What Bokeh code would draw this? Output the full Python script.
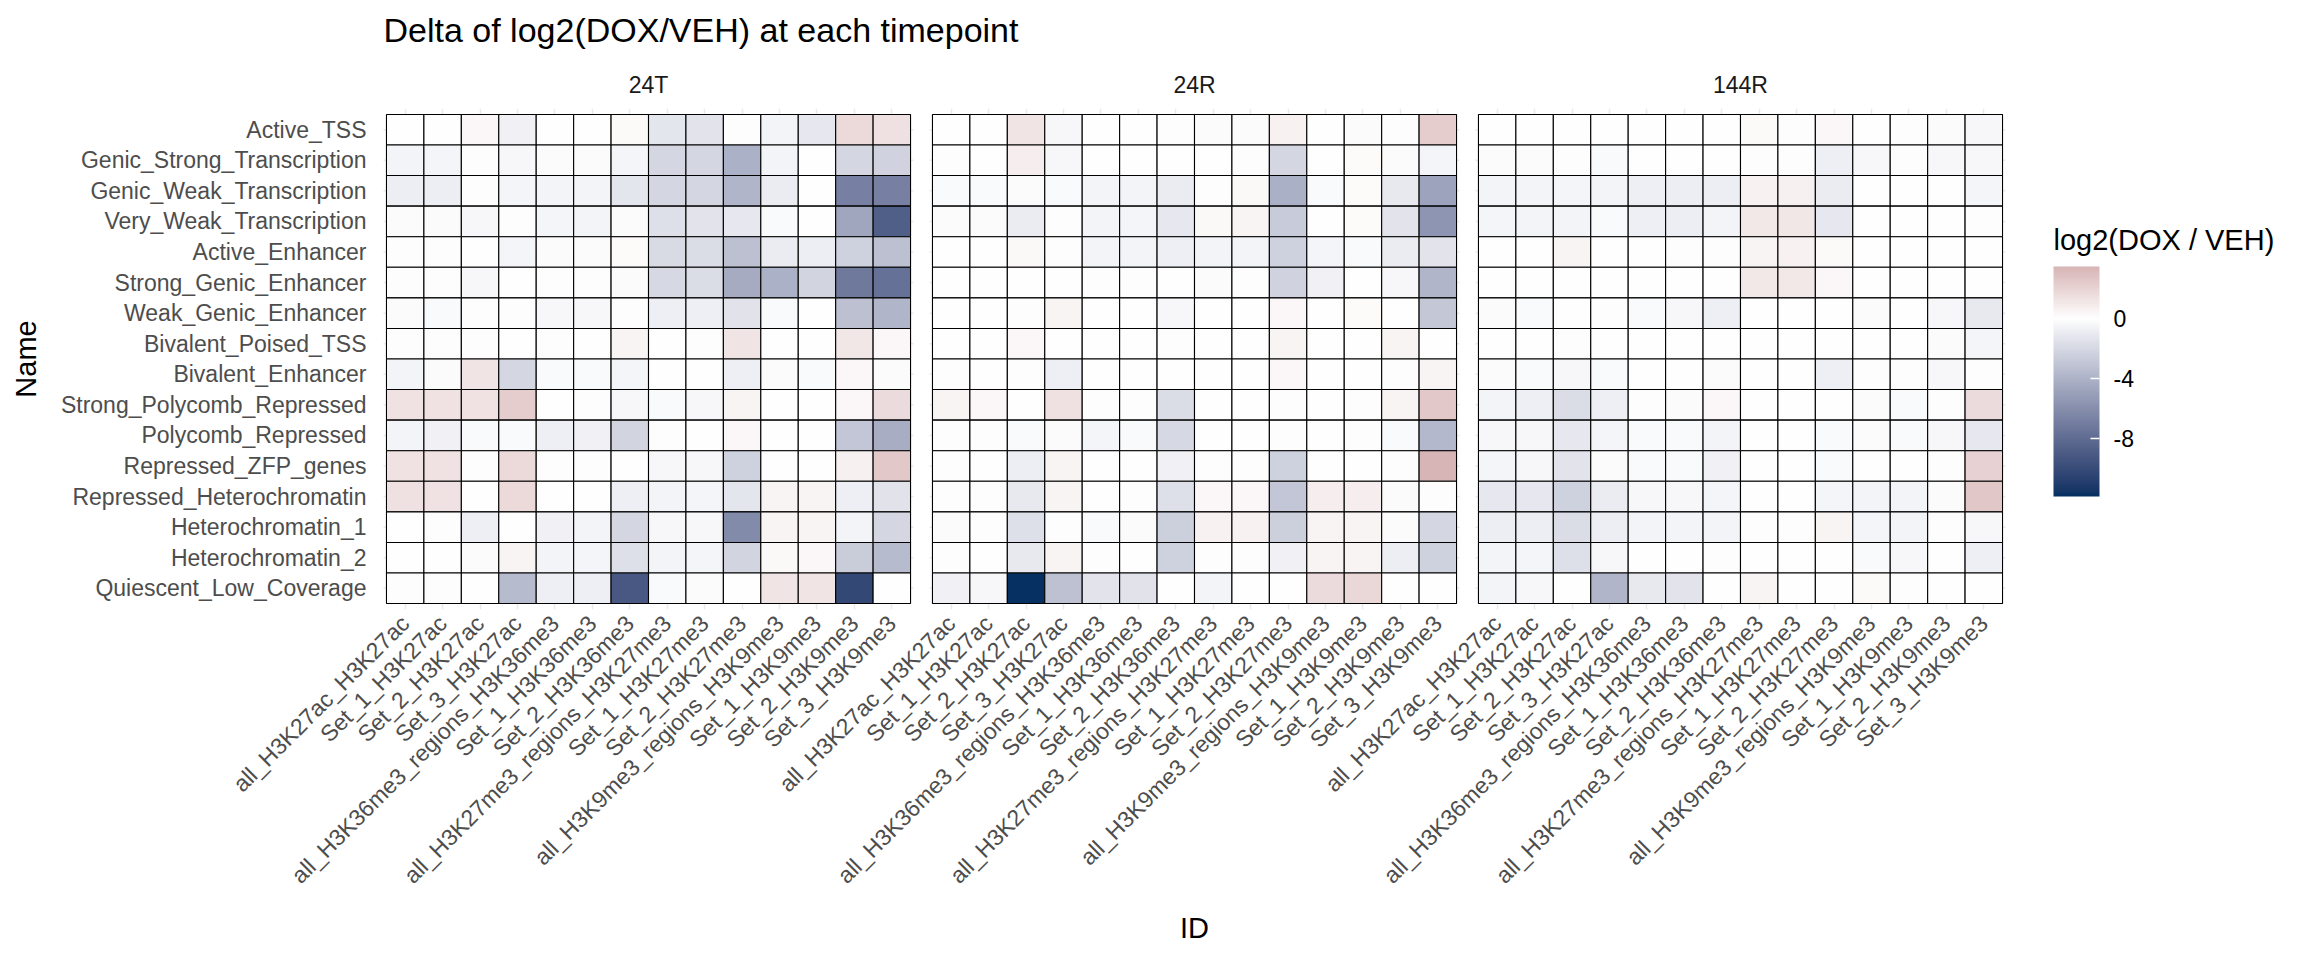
import math
from bokeh.plotting import figure
from bokeh.models import (ColumnDataSource, FactorRange, LinearColorMapper, ColorBar,
                          FixedTicker, CategoricalAxis, Range1d, PrintfTickFormatter)
from bokeh.layouts import row, column
from bokeh.core.properties import value
from bokeh.transform import transform
from bokeh.embed import file_html
from bokeh.resources import INLINE

# ---------------- data ----------------
title_text = "Delta of log2(DOX/VEH) at each timepoint"
legend_title = "log2(DOX / VEH)"
timepoints = ["24T", "24R", "144R"]
ids = ["all_H3K27ac_H3K27ac", "Set_1_H3K27ac", "Set_2_H3K27ac", "Set_3_H3K27ac",
       "all_H3K36me3_regions_H3K36me3", "Set_1_H3K36me3", "Set_2_H3K36me3",
       "all_H3K27me3_regions_H3K27me3", "Set_1_H3K27me3", "Set_2_H3K27me3",
       "all_H3K9me3_regions_H3K9me3", "Set_1_H3K9me3", "Set_2_H3K9me3", "Set_3_H3K9me3"]
names = ["Active_TSS", "Genic_Strong_Transcription", "Genic_Weak_Transcription",
         "Very_Weak_Transcription", "Active_Enhancer", "Strong_Genic_Enhancer",
         "Weak_Genic_Enhancer", "Bivalent_Poised_TSS", "Bivalent_Enhancer",
         "Strong_Polycomb_Repressed", "Polycomb_Repressed", "Repressed_ZFP_genes",
         "Repressed_Heterochromatin", "Heterochromatin_1", "Heterochromatin_2",
         "Quiescent_Low_Coverage"]

vals_24T = [
    [0.0, 0.0, 0.4, -0.7, 0.0, 0.0, 0.25, -1.3, -1.4, -0.1, -0.6, -1.2, 1.7, 1.4],
    [-0.6, -0.5, 0.1, -0.4, -0.2, -0.2, -0.5, -2.1, -2.1, -4.1, -0.6, 0.0, -2.1, -2.3],
    [-0.9, -0.9, -0.1, -0.5, -0.6, -0.6, -1.3, -2.1, -2.1, -3.9, -1.0, 0.0, -6.8, -6.8],
    [-0.2, -0.2, -0.4, -0.1, -0.5, -0.6, -0.2, -1.6, -1.4, -1.2, -0.3, 0.0, -4.7, -8.8],
    [-0.1, -0.1, 0.0, -0.5, -0.2, -0.2, 0.2, -1.9, -1.8, -3.3, -1.0, -0.9, -2.4, -3.3],
    [-0.1, -0.1, -0.4, 0.0, -0.1, -0.1, -0.2, -2.0, -1.8, -4.4, -4.1, -2.2, -7.2, -7.7],
    [-0.2, -0.3, -0.1, -0.1, -0.4, -0.4, -0.1, -0.8, -0.8, -1.5, -0.3, 0.0, -3.3, -3.85],
    [-0.1, -0.1, 0.1, -0.05, 0.1, 0.0, 0.5, 0.0, -0.1, 1.2, 0.0, -0.05, 1.1, 0.35],
    [-0.6, -0.2, 1.2, -2.1, -0.3, -0.3, -0.5, 0.0, 0.0, -0.8, -0.2, -0.3, 0.4, -0.2],
    [1.3, 1.3, 1.3, 2.3, -0.05, 0.1, -0.4, -0.3, -0.4, 0.5, -0.05, -0.05, 0.4, 1.6],
    [-0.6, -0.7, -0.3, -0.3, -0.8, -0.7, -2.2, -0.1, -0.05, 0.4, 0.0, 0.0, -3.0, -4.3],
    [1.3, 1.3, 0.1, 1.7, 0.1, 0.1, 0.0, -0.4, -0.4, -2.4, -0.05, -0.05, 0.7, 2.5],
    [1.4, 1.3, 0.0, 1.7, -0.05, 0.0, -0.8, -0.6, -0.5, -1.3, 0.5, 0.5, -0.8, -1.5],
    [-0.05, -0.1, -0.8, -0.05, -0.7, -0.6, -2.1, -0.4, -0.4, -6.2, 0.5, 0.5, -0.6, -2.1],
    [-0.05, 0.0, -0.2, 0.5, -0.6, -0.5, -1.6, -0.6, -0.5, -2.2, 0.3, 0.4, -2.6, -3.6],
    [0.1, 0.1, 0.0, -3.6, -0.8, -0.8, -9.2, -0.3, -0.2, 0.0, 1.2, 1.2, -10.2, 0.0],
]
vals_24R = [
    [0.0, 0.0, 1.2, -0.4, 0.0, -0.05, 0.1, -0.2, -0.2, 0.6, 0.0, -0.2, 0.1, 2.3],
    [-0.1, -0.05, 0.8, -0.4, -0.05, -0.05, 0.0, 0.0, 0.1, -2.1, 0.0, 0.2, -0.2, -0.5],
    [-0.3, -0.3, -0.2, -0.3, -0.6, -0.6, -1.0, 0.1, 0.3, -4.2, -0.3, 0.2, -1.1, -4.8],
    [-0.2, -0.2, -1.0, 0.05, -0.6, -0.5, -1.2, 0.3, 0.5, -2.7, 0.0, 0.2, -1.4, -5.6],
    [0.0, -0.05, 0.3, -0.1, -0.6, -0.6, -0.8, -0.6, -0.6, -2.4, -0.5, -0.3, -1.0, -1.4],
    [0.0, 0.0, -0.05, 0.0, -0.1, -0.1, 0.0, -0.2, -0.1, -2.3, -0.7, -0.05, -0.4, -3.9],
    [0.0, 0.0, -0.1, 0.5, 0.0, 0.0, -0.4, 0.0, 0.0, 0.4, 0.0, 0.2, 0.0, -2.9],
    [0.0, 0.0, 0.4, -0.05, -0.05, 0.0, 0.05, -0.05, -0.05, 0.5, 0.0, 0.0, 0.5, 0.0],
    [-0.1, 0.0, 0.05, -0.8, 0.0, 0.0, 0.0, 0.0, 0.0, 0.4, 0.0, 0.0, 0.1, 0.5],
    [0.5, 0.4, -0.05, 1.4, 0.1, 0.1, -1.8, 0.0, 0.0, 0.1, 0.0, 0.05, 0.5, 2.5],
    [-0.1, -0.1, -0.3, -0.2, -0.5, -0.3, -2.0, 0.0, 0.0, 0.1, 0.0, 0.05, -0.3, -3.7],
    [0.05, 0.0, -0.9, 0.5, 0.0, 0.0, -0.7, 0.1, 0.1, -2.4, 0.0, 0.0, 0.05, 3.45],
    [0.05, 0.05, -1.1, 0.5, 0.0, -0.1, -1.6, 0.4, 0.4, -3.0, 0.8, 0.8, -0.2, 0.05],
    [-0.2, -0.1, -1.6, 0.1, -0.3, -0.2, -2.5, 0.6, 0.6, -2.5, 0.5, 0.5, -0.2, -2.1],
    [-0.1, -0.05, -1.1, 0.5, -0.1, 0.0, -2.4, 0.05, 0.05, -0.7, 0.5, 0.5, -0.9, -2.4],
    [-0.7, -0.4, -11.85, -3.2, -1.4, -1.5, 0.0, -0.6, -0.05, 0.0, 1.6, 1.8, 0.0, 0.0],
]
vals_144R = [
    [0.0, 0.0, 0.0, 0.0, 0.0, 0.0, -0.05, 0.25, 0.05, 0.4, -0.05, 0.1, -0.2, -0.4],
    [-0.2, -0.2, 0.05, -0.3, -0.05, -0.05, 0.0, 0.1, 0.05, -0.8, -0.4, -0.1, -0.4, -0.4],
    [-0.6, -0.6, -0.5, -0.6, -0.8, -0.9, -0.9, 0.6, 0.7, -1.0, 0.0, 0.0, 0.0, -0.5],
    [-0.5, -0.6, -0.6, -0.3, -0.8, -0.9, -0.6, 1.0, 1.1, -1.2, 0.0, 0.0, 0.0, 0.05],
    [0.0, 0.0, 0.5, 0.0, 0.0, -0.1, -0.1, 0.5, 0.6, 0.25, 0.0, 0.0, 0.0, 0.0],
    [0.0, 0.0, -0.05, 0.0, 0.0, 0.0, 0.0, 1.0, 1.0, 0.4, 0.0, 0.0, -0.05, -0.05],
    [-0.2, -0.3, 0.0, -0.1, -0.3, -0.4, -0.8, 0.0, 0.0, 0.0, -0.2, -0.05, -0.4, -1.1],
    [0.0, 0.0, 0.05, 0.0, 0.0, 0.0, 0.0, 0.0, 0.0, 0.0, 0.0, 0.0, -0.2, -0.5],
    [-0.2, -0.3, -0.4, -0.3, 0.0, 0.0, -0.2, 0.0, 0.0, -0.8, -0.1, -0.1, -0.4, -0.1],
    [-0.6, -0.8, -1.8, -0.8, -0.1, -0.2, 0.4, -0.05, -0.05, 0.0, -0.2, -0.3, 0.05, 1.6],
    [-0.4, -0.4, -1.2, -0.5, -0.3, -0.3, -0.6, 0.0, 0.0, -0.3, -0.2, -0.3, -0.4, -1.2],
    [-0.5, -0.4, -1.4, -0.2, -0.3, -0.3, -0.7, 0.0, 0.0, -0.3, 0.0, 0.0, -0.1, 2.1],
    [-1.2, -1.2, -2.4, -1.0, -0.4, -0.4, -0.5, 0.0, 0.0, -0.5, -0.6, -0.6, -0.2, 2.6],
    [-0.9, -0.9, -1.8, -0.9, -0.6, -0.6, -0.6, 0.1, 0.05, 0.5, -0.5, -0.6, 0.1, -0.4],
    [-0.6, -0.5, -1.6, -0.4, -0.05, -0.05, -0.1, -0.05, -0.05, -0.05, -0.3, -0.4, 0.0, -0.8],
    [-0.6, -0.4, 0.0, -3.9, -1.1, -1.4, 0.0, 0.5, -0.05, 0.0, 0.25, 0.1, 0.0, 0.0],
]
legend_ticks = [-8, -4, 0]

# ---------------- colour scale (diverging, Lab interpolation) ----------------
FONT = "Liberation Sans"
_WHITE = (0.95047, 1.0, 1.08883)


def _hex_rgb(h):
    h = h.lstrip("#")
    return [int(h[i:i + 2], 16) / 255 for i in (0, 2, 4)]


def _lin(c):
    return c / 12.92 if c <= 0.04045 else ((c + 0.055) / 1.055) ** 2.4


def _gam(c):
    c = min(max(c, 0.0), 1.0)
    return 12.92 * c if c <= 0.0031308 else 1.055 * c ** (1 / 2.4) - 0.055


def _f(t):
    return t ** (1 / 3) if t > 216 / 24389 else (24389 / 27 * t + 16) / 116


def _finv(t):
    return t ** 3 if t ** 3 > 216 / 24389 else (116 * t - 16) / (24389 / 27)


def to_lab(h):
    r, g, b = (_lin(c) for c in _hex_rgb(h))
    x = 0.4124564 * r + 0.3575761 * g + 0.1804375 * b
    y = 0.2126729 * r + 0.7151522 * g + 0.0721750 * b
    z = 0.0193339 * r + 0.1191920 * g + 0.9503041 * b
    fx, fy, fz = _f(x / _WHITE[0]), _f(y / _WHITE[1]), _f(z / _WHITE[2])
    return (116 * fy - 16, 500 * (fx - fy), 200 * (fy - fz))


def from_lab(L, a, b):
    fy = (L + 16) / 116
    fx = fy + a / 500
    fz = fy - b / 200
    x, y, z = _WHITE[0] * _finv(fx), _WHITE[1] * _finv(fy), _WHITE[2] * _finv(fz)
    r = 3.2404542 * x - 1.5371385 * y - 0.4985314 * z
    g = -0.9692660 * x + 1.8760108 * y + 0.0415560 * z
    bb = 0.0556434 * x - 0.2040259 * y + 1.0572252 * z
    return "#%02x%02x%02x" % tuple(int(round(_gam(c) * 255)) for c in (r, g, bb))


all_vals = [v for tbl in (vals_24T, vals_24R, vals_144R) for r in tbl for v in r]
vmin, vmax = min(all_vals), max(all_vals)
vabs = max(-vmin, vmax)
low_lab, mid_lab, high_lab = to_lab("#053061"), to_lab("#FFFFFF"), to_lab("#67001F")
palette = []
N = 256
for i in range(N):
    v = vmin + (vmax - vmin) * i / (N - 1)
    t = v / vabs
    end = high_lab if t > 0 else low_lab
    t = abs(t)
    palette.append(from_lab(*[m + (e - m) * t for m, e in zip(mid_lab, end)]))
mapper = LinearColorMapper(palette=palette, low=vmin, high=vmax)

# ---------------- source ----------------
xs, ys, vs = [], [], []
for tp, tbl in zip(timepoints, (vals_24T, vals_24R, vals_144R)):
    for name, rowv in zip(names, tbl):
        for id_, v in zip(ids, rowv):
            xs.append((tp, id_))
            ys.append(name)
            vs.append(v)
src = ColumnDataSource(dict(x=xs, y=ys, v=vs))

# ---------------- geometry ----------------
TITLE_H = 60                 # height of the title strip
MAIN_H = 898                 # height of the panel row
BORDER_L, BORDER_R = 380, 32
BORDER_T, BORDER_B = 48, 349
FRAME_W = 1628
FRAME_H = MAIN_H - BORDER_T - BORDER_B
MAIN_W = BORDER_L + FRAME_W + BORDER_R
LEG_W = 256

unit = 526 / 14          # px per column
row_h = 495 / 16         # px per row
gap = 22 / unit
pad_x = 3 / unit
pad_y = 3 / row_h
ncol = len(ids)

# ---------------- title figure ----------------
tfig = figure(width=MAIN_W, height=TITLE_H, x_range=Range1d(0, FRAME_W),
              y_range=Range1d(0, TITLE_H), output_backend="svg", toolbar_location=None,
              x_axis_location=None, y_axis_location=None, title=None,
              min_border_left=BORDER_L, min_border_right=BORDER_R,
              min_border_top=0, min_border_bottom=0)
tfig.outline_line_color = None
tfig.xgrid.visible = False
tfig.ygrid.visible = False
tfig.text(x=[3], y=[TITLE_H - 29], text=[title_text], text_font=value(FONT),
          text_font_size="34px", text_color="black", text_align="left",
          text_baseline="middle")

# ---------------- main figure ----------------
x_range = FactorRange(factors=[(tp, i) for tp in timepoints for i in ids],
                      factor_padding=0, group_padding=gap,
                      range_padding=2 * pad_x, range_padding_units="absolute")
y_range = FactorRange(factors=names[::-1], factor_padding=0,
                      range_padding=2 * pad_y, range_padding_units="absolute")

p = figure(width=MAIN_W, height=MAIN_H, x_range=x_range, y_range=y_range,
           output_backend="svg", toolbar_location=None, title=None,
           min_border_left=BORDER_L, min_border_right=BORDER_R,
           min_border_top=BORDER_T, min_border_bottom=BORDER_B)
p.outline_line_color = None
p.background_fill_color = "white"
p.border_fill_color = "white"

# strip range: one unit per panel, same screen mapping as the panels
p.extra_x_ranges["strip"] = FactorRange(factors=timepoints, factor_padding=gap / ncol,
                                        range_padding=2 * pad_x / ncol,
                                        range_padding_units="absolute")

# grid (vertical from axis ticks, horizontal drawn per panel)
p.xgrid.grid_line_color = "#EBEBEB"
p.xgrid.grid_line_width = 1.5
p.ygrid.visible = False
seg = dict(x0=[], x1=[], y=[])
for tp in timepoints:
    for name in names:
        seg["x0"].append((tp, ids[0], -0.5 - pad_x))
        seg["x1"].append((tp, ids[-1], 0.5 + pad_x))
        seg["y"].append(name)
p.segment(x0="x0", x1="x1", y0="y", y1="y", source=ColumnDataSource(seg),
          line_color="#EBEBEB", line_width=1.5)

p.rect(x="x", y="y", width=1, height=1, source=src,
       fill_color=transform("v", mapper), line_color="black", line_width=1.1)

# bottom axis
xb = p.xaxis[0]
xb.major_label_orientation = math.pi / 4
xb.major_label_text_font = FONT
xb.major_label_text_font_size = "23px"
xb.major_label_text_color = "#4D4D4D"
xb.major_label_standoff = 10
xb.group_text_font_size = "0px"
xb.group_text_color = None
xb.separator_line_color = None
xb.axis_line_color = None
xb.major_tick_line_color = None
xb.major_tick_out = 0
xb.major_tick_in = 0
xb.minor_tick_line_color = None
xb.axis_label = "ID"
xb.axis_label_text_font = FONT
xb.axis_label_text_font_size = "29px"
xb.axis_label_text_font_style = "normal"
xb.axis_label_text_color = "black"
xb.axis_label_standoff = 12

# strip labels (top axis on the per-panel range)
xa = CategoricalAxis(x_range_name="strip")
xa.major_label_text_font = FONT
xa.major_label_text_font_size = "23px"
xa.major_label_text_color = "#1A1A1A"
xa.major_label_standoff = 11
xa.axis_line_color = None
xa.major_tick_line_color = None
xa.major_tick_out = 0
xa.major_tick_in = 0
xa.minor_tick_line_color = None
p.add_layout(xa, "above")

# left axis
ya = p.yaxis[0]
ya.major_label_text_font = FONT
ya.major_label_text_font_size = "23px"
ya.major_label_text_color = "#4D4D4D"
ya.major_label_standoff = 14
ya.axis_line_color = None
ya.major_tick_line_color = None
ya.major_tick_out = 0
ya.major_tick_in = 0
ya.minor_tick_line_color = None
ya.axis_label = "Name"
ya.axis_label_text_font = FONT
ya.axis_label_text_font_size = "29px"
ya.axis_label_text_font_style = "normal"
ya.axis_label_text_color = "black"
ya.axis_label_standoff = 16

# ---------------- legend figure (colour bar + its title) ----------------
# frame coincides vertically with the panel frame; 1 data unit = 1 px
leg = figure(width=LEG_W, height=MAIN_H, x_range=Range1d(0, LEG_W),
             y_range=Range1d(0, FRAME_H), output_backend="svg", toolbar_location=None,
             x_axis_location=None, y_axis_location=None, title=None,
             min_border_left=0, min_border_right=0,
             min_border_top=BORDER_T, min_border_bottom=BORDER_B)
leg.outline_line_color = None
leg.xgrid.visible = False
leg.ygrid.visible = False
frame_bottom = TITLE_H + BORDER_T + FRAME_H
leg.text(x=[13], y=[frame_bottom - 239], text=[legend_title], text_font=value(FONT),
         text_font_size="29px", text_color="black", text_align="left",
         text_baseline="middle")

cb = ColorBar(color_mapper=mapper, ticker=FixedTicker(ticks=legend_ticks),
              formatter=PrintfTickFormatter(format="%d"),
              width=46, height=230, location=(13, frame_bottom - 496), padding=0, margin=0,
              major_label_text_font=FONT, major_label_text_font_size="23px",
              major_label_text_color="black", label_standoff=14,
              major_tick_in=9, major_tick_out=0, major_tick_line_color="white",
              major_tick_line_width=1.3, minor_tick_line_color=None,
              bar_line_color=None, border_line_color=None, background_fill_color=None)
leg.add_layout(cb)

layout = column(tfig, row(p, leg, spacing=0), spacing=0)
open("out.html", "w").write(file_html(layout, INLINE))
